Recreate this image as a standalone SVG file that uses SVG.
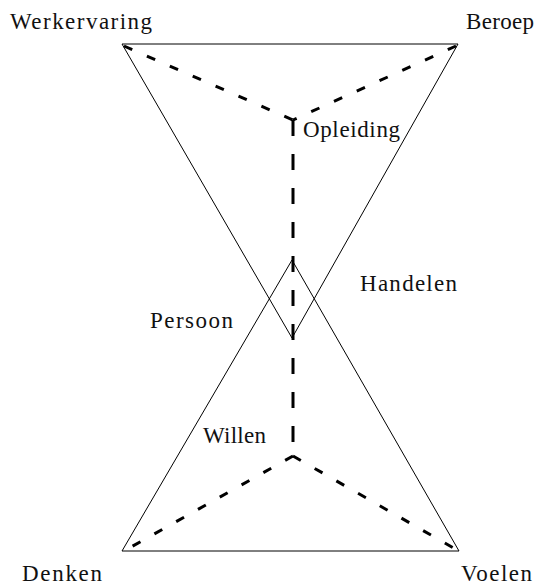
<svg xmlns="http://www.w3.org/2000/svg" width="539" height="586" viewBox="0 0 539 586">
<style>
.tri{fill:none;stroke:#000;stroke-width:1}
.dash{fill:none;stroke:#000;stroke-width:3;stroke-dasharray:9,16}
.vdash{fill:none;stroke:#000;stroke-width:3;stroke-dasharray:16,18}
.lbl{font-family:"Liberation Serif","Times New Roman",serif;font-size:23px;fill:#111}
</style>
<rect width="539" height="586" fill="#fff"/>
<g id="triangle-top"><polygon class="tri" points="122,44 458,44 292,338"/></g>
<g id="triangle-bottom"><polygon class="tri" points="122,551 459,551 292,260"/></g>
<g id="connectors">
<path class="dash" d="M124,46 L293,120"/>
<path class="dash" d="M456,46 L293,120"/>
<path class="vdash" d="M293,120 L293,456"/>
<path class="dash" d="M293,456 L124,551"/>
<path class="dash" d="M293,456 L457,550"/>
</g>
<g id="werkervaring"><text class="lbl" x="10" y="29" textLength="142">Werkervaring</text></g>
<g id="beroep"><text class="lbl" x="466" y="29" textLength="68">Beroep</text></g>
<g id="opleiding"><text class="lbl" x="303" y="137" textLength="97">Opleiding</text></g>
<g id="handelen"><text class="lbl" x="360" y="291" textLength="97">Handelen</text></g>
<g id="persoon"><text class="lbl" x="150" y="328" textLength="83">Persoon</text></g>
<g id="willen"><text class="lbl" x="203" y="443" textLength="63">Willen</text></g>
<g id="denken"><text class="lbl" x="22" y="581" textLength="80">Denken</text></g>
<g id="voelen"><text class="lbl" x="461" y="581" textLength="71">Voelen</text></g>
</svg>
